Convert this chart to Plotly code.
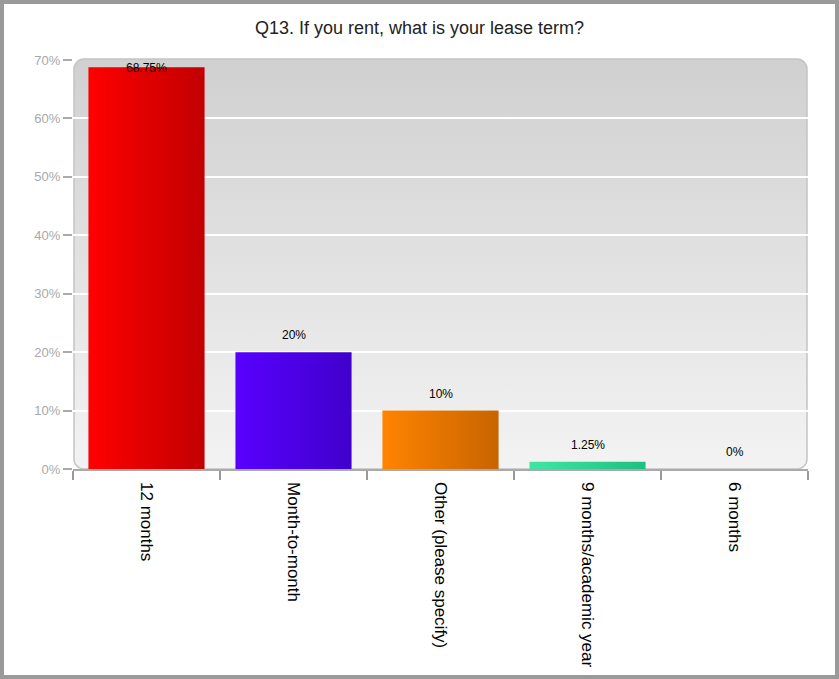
import base64
import plotly.graph_objects as go

title = "Q13. If you rent, what is your lease term?"
categories = ["12 months", "Month-to-month", "Other (please specify)",
              "9 months/academic year", "6 months"]
values = [68.75, 20, 10, 1.25, 0]
colors_left = ["#ff0000", "#5800ff", "#ff8400", "#3ee6a4", "#bbbbbb"]
colors_right = ["#c20000", "#4100cc", "#c86400", "#1fbf82", "#999999"]
y_ticks = [0, 10, 20, 30, 40, 50, 60, 70]
y_tick_labels = [f"{t}%" for t in y_ticks]

W, H = 839, 679
ML, MR, MT, MB = 73, 31, 60, 210
PW, PH = W - ML - MR, H - MT - MB
half_w = 0.395

fig = go.Figure()

for i, (v, cl, cr) in enumerate(zip(values, colors_left, colors_right)):
    if v <= 0:
        continue
    fig.add_trace(go.Scatter(
        x=[i - half_w, i + half_w, i + half_w, i - half_w, i - half_w],
        y=[0, 0, v, v, 0],
        mode="lines", line=dict(width=0),
        fill="toself",
        fillgradient=dict(type="horizontal", colorscale=[[0, cl], [1, cr]]),
        hoverinfo="skip", showlegend=False,
    ))

# hidden trace for the category label axis
fig.add_trace(go.Scatter(x=list(range(len(categories))), y=[0] * len(categories),
                         xaxis="x2", mode="markers", marker=dict(opacity=0),
                         hoverinfo="skip", showlegend=False))

# value labels
for i, v in enumerate(values):
    fig.add_annotation(x=i, y=min(v + 2.9, 68.6), xref="x", yref="y",
                       text=f"{v:g}%", showarrow=False, yanchor="middle",
                       font=dict(family="Arial", size=12, color="#000000"))

# background: rounded, vertical gradient panel
svg = f'''<svg xmlns="http://www.w3.org/2000/svg" width="{PW}" height="{PH + 3}" viewBox="0 0 {PW} {PH + 3}">
<defs><linearGradient id="g" x1="0" y1="0" x2="0" y2="1">
<stop offset="0" stop-color="#d0d0d0"/><stop offset="1" stop-color="#f3f3f3"/></linearGradient></defs>
<rect x="1" y="1" width="{PW - 2}" height="{PH + 1}" rx="10" ry="10" fill="url(#g)" stroke="#c4c4c4" stroke-width="1.5"/>
</svg>'''
uri = "data:image/svg+xml;base64," + base64.b64encode(svg.encode()).decode()
fig.add_layout_image(source=uri, xref="paper", yref="paper", x=0, y=1 + 2 / PH,
                     sizex=1, sizey=(PH + 3) / PH, xanchor="left", yanchor="top",
                     sizing="stretch", layer="below")

# outer frame
fig.add_shape(type="rect", xref="paper", yref="paper",
              x0=-ML / PW, x1=(W - ML) / PW, y0=-MB / PH, y1=(H - MB) / PH,
              line=dict(color="#9a9a9a", width=8), fillcolor="rgba(0,0,0,0)")

bounds = [i - 0.5 for i in range(len(categories) + 1)]

fig.update_layout(
    width=W, height=H,
    margin=dict(l=ML, r=MR, t=MT, b=MB, autoexpand=False),
    paper_bgcolor="white", plot_bgcolor="rgba(0,0,0,0)",
    title=dict(text=title, x=0.5, xanchor="center", y=1 - 28 / H, yanchor="middle",
               font=dict(family="Arial", size=18, color="#222222")),
    xaxis=dict(range=[-0.5, len(categories) - 0.5], tickvals=bounds,
               showticklabels=False, ticks="outside", ticklen=9, tickcolor="#999999",
               tickwidth=1.5, showgrid=False, zeroline=False, automargin=False,
               showline=True, linecolor="#aaaaaa", linewidth=1.5),
    xaxis2=dict(range=[-0.5, len(categories) - 0.5], overlaying="x", anchor="y",
                side="bottom", tickvals=list(range(len(categories))), ticktext=categories,
                tickangle=90, ticks="", showgrid=False, zeroline=False, showline=False,
                ticklabelstandoff=12, automargin=False,
                tickfont=dict(family="Arial", size=17, color="#000000")),
    yaxis=dict(range=[0, 70], tickvals=y_ticks, ticktext=y_tick_labels,
               ticks="outside", ticklen=9, tickcolor="#aaaaaa", tickwidth=1.5,
               showgrid=True, gridcolor="#ffffff", gridwidth=1.5, zeroline=False,
               showline=False, automargin=False,
               tickfont=dict(family="Arial", size=13, color="#a8a8a8")),
)

fig.write_html("out.html")
